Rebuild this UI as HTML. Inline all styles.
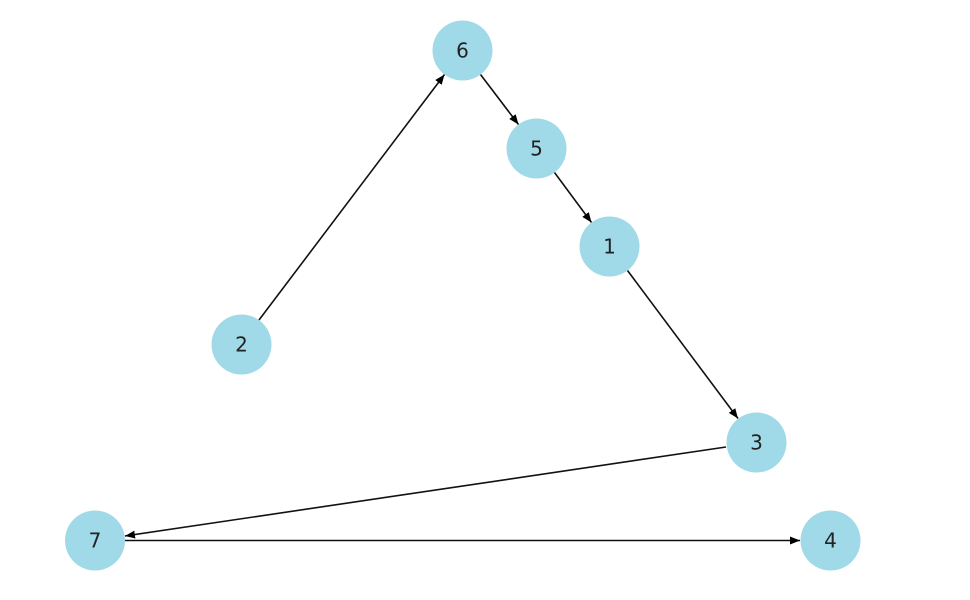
<!DOCTYPE html>
<html><head><meta charset="utf-8"><style>
html,body{margin:0;padding:0;background:#fff;width:970px;height:600px;overflow:hidden}
</style></head><body>
<svg width="970" height="600" viewBox="0 0 970 600" xmlns="http://www.w3.org/2000/svg">
<defs>
<marker id="a" markerWidth="10" markerHeight="8" refX="10" refY="4" orient="auto" markerUnits="userSpaceOnUse">
<path d="M0,0 L10,4 L0,8 Z" fill="#000"/>
</marker>
</defs>
<g stroke="#111" stroke-width="1.6" fill="none" marker-end="url(#a)">
<line x1="259" y1="320" x2="444.5" y2="74.5"/>
<line x1="480.5" y1="74.5" x2="518.5" y2="124.5"/>
<line x1="554.5" y1="172.5" x2="591.5" y2="222.5"/>
<line x1="627.5" y1="270.5" x2="738" y2="418.5"/>
<line x1="726" y1="447" x2="125" y2="536"/>
<line x1="125" y1="540.5" x2="800" y2="540.5"/>
</g>
<g fill="#a0d9e8">
<circle cx="462.5" cy="50.5" r="30"/>
<circle cx="536.5" cy="148.5" r="30"/>
<circle cx="609.5" cy="246.5" r="30"/>
<circle cx="241.5" cy="344.5" r="30"/>
<circle cx="756.5" cy="442.5" r="30"/>
<circle cx="95" cy="540.5" r="30"/>
<circle cx="830.5" cy="540.5" r="30"/>
</g>
<g font-family="'DejaVu Sans','Liberation Sans',sans-serif" font-size="20" fill="#222" text-anchor="middle" dominant-baseline="central">
<text x="462.5" y="50.5">6</text>
<text x="536.5" y="148.5">5</text>
<text x="609.5" y="246.5">1</text>
<text x="241.5" y="344.5">2</text>
<text x="756.5" y="442.5">3</text>
<text x="95" y="540.5">7</text>
<text x="830.5" y="540.5">4</text>
</g>
</svg>
</body></html>
